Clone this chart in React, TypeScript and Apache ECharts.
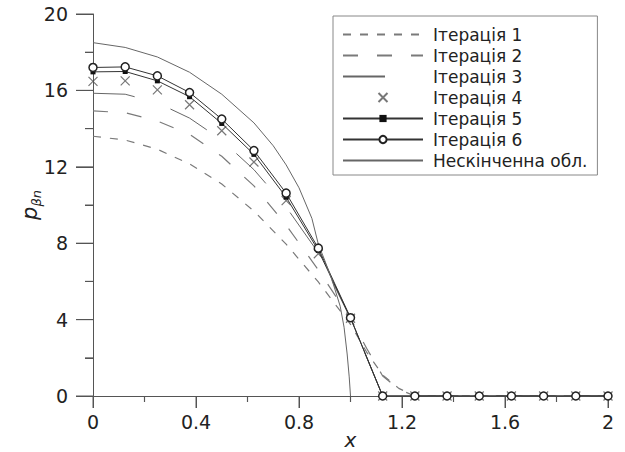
import React, { useEffect, useRef } from "react";
import * as echarts from "echarts";

// grid of the computed points (x)
const xGrid = [0, 0.125, 0.25, 0.375, 0.5, 0.625, 0.75, 0.875, 1, 1.125, 1.25, 1.375, 1.5, 1.625, 1.75, 1.875, 2];
const iter3Y = [15.85, 15.8, 15.35, 14.55, 13.4, 11.85, 9.9, 7.5, 4.05, 0, 0, 0, 0, 0, 0, 0, 0];
const iter4Y = [16.47, 16.5, 16.03, 15.25, 13.89, 12.25, 10.23, 7.45, 4.07, 0, 0, 0, 0, 0, 0, 0, 0];
const iter5Y = [16.97, 16.99, 16.5, 15.67, 14.27, 12.65, 10.41, 7.62, 4.08, 0, 0, 0, 0, 0, 0, 0, 0];
const iter6Y = [17.2, 17.23, 16.76, 15.89, 14.5, 12.85, 10.62, 7.74, 4.1, 0, 0, 0, 0, 0, 0, 0, 0];

// early iterations (with a smooth tail beyond x = 1)
const tailX = [0, 0.125, 0.25, 0.375, 0.5, 0.625, 0.75, 0.875, 1, 1.0625, 1.125, 1.1875, 1.25, 1.5, 1.75, 2];
const iter1Y = [13.6, 13.4, 12.92, 12.15, 11.1, 9.68, 7.95, 5.97, 3.75, 2.3, 1.1, 0.4, 0, 0, 0, 0];
const iter2Y = [14.93, 14.83, 14.4, 13.7, 12.55, 11.0, 8.95, 6.6, 4.05, 2.5, 1.05, 0.35, 0, 0, 0, 0];

// infinite domain solution
const infX = [0, 0.125, 0.25, 0.375, 0.5, 0.625, 0.7, 0.75, 0.8, 0.85, 0.875, 0.9, 0.93, 0.96, 0.975, 0.987, 0.995, 1.0];
const infY = [18.5, 18.25, 17.75, 16.95, 15.8, 14.3, 13.1, 12.1, 10.9, 9.3, 7.95, 7.1, 6.0, 4.7, 3.6, 2.2, 1.0, 0];

const seriesNames = ["Ітерація 1", "Ітерація 2", "Ітерація 3", "Ітерація 4", "Ітерація 5", "Ітерація 6", "Нескінченна обл."];

// axis ticks
const xMajorTicks = [0, 0.4, 0.8, 1.2, 1.6, 2];
const xMinorTicks = [0.2, 0.6, 1.0, 1.4, 1.8];
const yMajorTicks = [0, 4, 8, 12, 16, 20];
const yMinorTicks = [2, 6, 10, 14, 18];
const xAxisRange = { min: 0, max: 2, interval: 0.4 };
const yAxisRange = { min: 0, max: 20, interval: 4 };

const zip = (xs: number[], ys: number[]) => xs.map((x, i) => [x, ys[i]]);

const FONT = "DejaVu Sans";
const AXIS_COLOR = "#555";

function tickMarks(values: number[], dir: "x" | "y", len: number) {
  return {
    type: "scatter",
    silent: true,
    clip: false,
    z: 1,
    symbol: "rect",
    symbolSize: dir === "x" ? [1.2, len] : [len, 1.2],
    symbolOffset: dir === "x" ? [0, len / 2] : [-len / 2, 0],
    itemStyle: { color: AXIS_COLOR },
    data: values.map((v) => (dir === "x" ? [v, 0] : [0, v])),
  };
}

export default function App() {
  const ref = useRef<HTMLDivElement>(null);

  useEffect(() => {
    if (!ref.current) return;
    const chart = echarts.init(ref.current, undefined, { renderer: "svg" });
    const option: any = {
      animation: false,
      backgroundColor: "#fff",
      grid: { left: 93, right: 17, top: 14, bottom: 56, containLabel: false, outerBoundsMode: "none" },
      legend: {
        orient: "vertical",
        left: 333,
        top: 16,
        padding: [10, 10, 6, 9],
        itemWidth: 80,
        itemHeight: 9,
        itemGap: 4,
        borderColor: "#888",
        borderWidth: 1,
        backgroundColor: "#fff",
        textStyle: { fontFamily: FONT, fontSize: 17, color: "#222", lineHeight: 17, padding: [0, 0, 0, 5] },
        data: [
          { name: seriesNames[0], itemStyle: { opacity: 0 } },
          { name: seriesNames[1], itemStyle: { opacity: 0 } },
          { name: seriesNames[2], itemStyle: { opacity: 0 } },
          { name: seriesNames[3] },
          { name: seriesNames[4] },
          { name: seriesNames[5] },
          { name: seriesNames[6], itemStyle: { opacity: 0 } },
        ],
      },
      xAxis: {
        type: "value",
        min: xAxisRange.min,
        max: xAxisRange.max,
        interval: xAxisRange.interval,
        name: "x",
        nameLocation: "middle",
        nameMoveOverlap: false,
        nameGap: 34,
        nameTextStyle: { fontFamily: FONT, fontSize: 20, fontStyle: "italic", color: "#222" },
        axisLine: { show: true, onZero: false, lineStyle: { color: AXIS_COLOR, width: 1 } },
        axisTick: { show: true, inside: false, length: 12, lineStyle: { color: AXIS_COLOR, width: 1 } },
        minorTick: { show: true, splitNumber: 2, length: 6, lineStyle: { color: AXIS_COLOR, width: 1 } },
        splitLine: { show: false },
        axisLabel: { fontFamily: FONT, fontSize: 19, color: "#222", margin: 16 },
      },
      yAxis: {
        type: "value",
        min: yAxisRange.min,
        max: yAxisRange.max,
        interval: yAxisRange.interval,
        name: "{p|p}{s|βn}",
        nameLocation: "middle",
        nameRotate: 90,
        nameMoveOverlap: false,
        nameGap: 50,
        nameTextStyle: {
          color: "#222",
          rich: {
            p: { fontFamily: FONT, fontSize: 21, fontStyle: "italic", color: "#222", lineHeight: 26 },
            s: { fontFamily: FONT, fontSize: 13, fontStyle: "italic", color: "#222", verticalAlign: "bottom", lineHeight: 26, padding: [10, 0, 0, 0] },
          },
        },
        axisLine: { show: true, onZero: false, lineStyle: { color: AXIS_COLOR, width: 1 } },
        axisTick: { show: true, inside: false, length: 17, lineStyle: { color: AXIS_COLOR, width: 1 } },
        minorTick: { show: true, splitNumber: 2, length: 8, lineStyle: { color: AXIS_COLOR, width: 1 } },
        splitLine: { show: false },
        axisLabel: { fontFamily: FONT, fontSize: 19, color: "#222", margin: 25 },
      },
      series: [
        tickMarks(xMajorTicks, "x", 12),
        tickMarks(xMinorTicks, "x", 6),
        tickMarks(yMajorTicks, "y", 17),
        tickMarks(yMinorTicks, "y", 8),
        {
          name: seriesNames[0],
          type: "line",
          data: zip(tailX, iter1Y),
          symbol: "none",
          showSymbol: false,
          lineStyle: { color: "#7a7a7a", width: 1.2, type: [8, 9] },
          itemStyle: { color: "#7a7a7a" },
        },
        {
          name: seriesNames[1],
          type: "line",
          data: zip(tailX, iter2Y),
          symbol: "none",
          showSymbol: false,
          lineStyle: { color: "#7a7a7a", width: 1.2, type: [15, 19] },
          itemStyle: { color: "#7a7a7a" },
        },
        {
          name: seriesNames[2],
          type: "line",
          data: zip(xGrid, iter3Y),
          symbol: "none",
          showSymbol: false,
          lineStyle: { color: "#666", width: 1, type: [42, 38] },
          itemStyle: { color: "#666" },
        },
        {
          name: seriesNames[3],
          type: "scatter",
          data: zip(xGrid, iter4Y),
          symbol: "path://M0,0L10,10M10,0L0,10",
          symbolSize: 9,
          itemStyle: { color: "rgba(0,0,0,0)", borderColor: "#555", borderWidth: 1.2 },
        },
        {
          name: seriesNames[4],
          type: "line",
          data: zip(xGrid, iter5Y),
          symbol: "rect",
          symbolSize: 5,
          showAllSymbol: true,
          lineStyle: { color: "#333", width: 1 },
          itemStyle: { color: "#111" },
        },
        {
          name: seriesNames[5],
          type: "line",
          data: zip(xGrid, iter6Y),
          symbol: "circle",
          symbolSize: 8,
          showAllSymbol: true,
          lineStyle: { color: "#333", width: 1 },
          itemStyle: { color: "#fff", borderColor: "#222", borderWidth: 1.5 },
        },
        {
          name: seriesNames[6],
          type: "line",
          data: zip(infX, infY),
          symbol: "none",
          showSymbol: false,
          lineStyle: { color: "#666", width: 1 },
          itemStyle: { color: "#666" },
        },
      ],
    };
    chart.setOption(option);
    return () => chart.dispose();
  }, []);

  return (
    <div
      ref={ref}
      style={{ position: "absolute", left: 0, top: 0, width: 625, height: 452, background: "#fff" }}
    />
  );
}
